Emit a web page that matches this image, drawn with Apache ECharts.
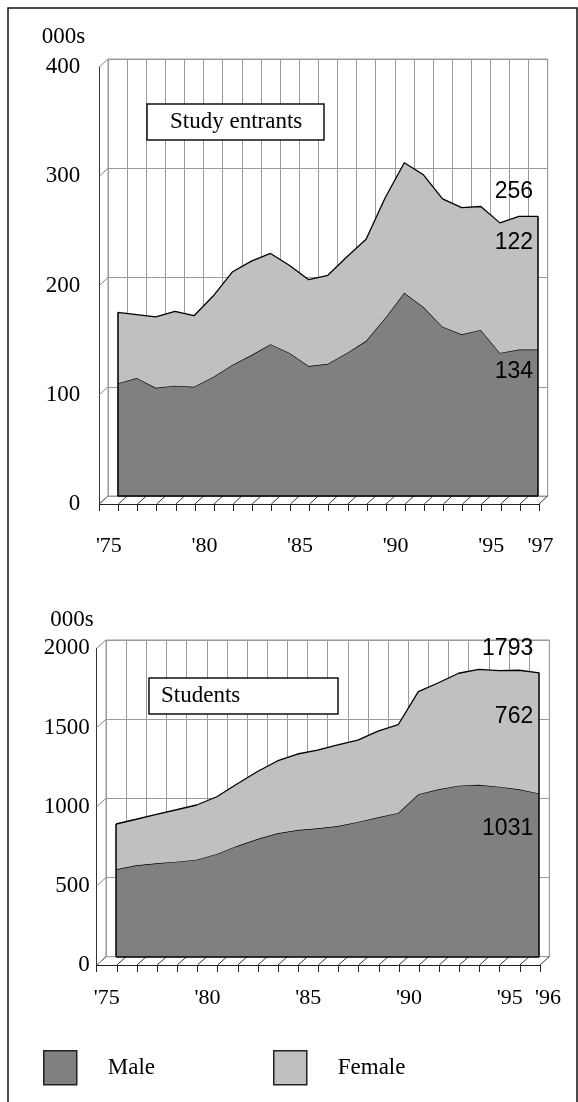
<!DOCTYPE html>
<html>
<head>
<meta charset="utf-8">
<script src="https://cdn.jsdelivr.net/npm/echarts@6/dist/echarts.min.js"></script>
<style>
  html, body { margin: 0; padding: 0; background: #fff; }
  #chart { width: 578px; height: 1102px; }
</style>
</head>
<body>
<div id="chart"></div>
<script>
// study entrants, thousands
const entrantYears = ["'75", "'76", "'77", "'78", "'79", "'80", "'81", "'82", "'83", "'84", "'85", "'86",
  "'87", "'88", "'89", "'90", "'91", "'92", "'93", "'94", "'95", "'96", "'97"];
const entrantMale = [103, 108, 99, 101, 100, 109, 120, 129, 139, 131, 119, 121, 131, 142, 163, 186, 173, 155, 148, 152, 131, 134, 134];
const entrantFemale = [65, 58, 65, 68, 65, 74, 85, 86, 83, 80, 79, 81, 88, 93, 110, 119, 121, 117, 116, 113, 119, 122, 122];
const entrantTicks = [0, 100, 200, 300, 400];

// students, thousands
const studentYears = ["'75", "'76", "'77", "'78", "'79", "'80", "'81", "'82", "'83", "'84", "'85", "'86",
  "'87", "'88", "'89", "'90", "'91", "'92", "'93", "'94", "'95", "'96"];
const studentMale = [552, 577, 590, 600, 613, 649, 699, 743, 779, 800, 811, 825, 851, 880, 908, 1026, 1057, 1080, 1086, 1074, 1057, 1031];
const studentFemale = [286, 291, 309, 328, 345, 361, 392, 425, 457, 480, 494, 512, 517, 545, 557, 648, 673, 710, 729, 732, 752, 762];
const studentTicks = [0, 500, 1000, 1500, 2000];

const SERIF = "Liberation Serif";
const SANS = "Liberation Sans";
const MALE_COLOR = "#808080";
const FEMALE_COLOR = "#c0c0c0";
const GRID_GRAY = "#9a9a9a";

// back wall box + 3d depth offset for each panel
const panels = [
  {
    title: "Study entrants", titleLeft: 147, titleTop: 104, titlePad: [5, 22, 5, 23],
    years: entrantYears, male: entrantMale, female: entrantFemale, ticks: entrantTicks,
    left: 108, top: 59, width: 439.7, height: 437, dx: 8.7, dy: 8,
    yLabelMargin: 19, nameGap: 19, namePad: [0, 14, 0, 0], xLabelMargin: 31, lastShift: 22,
    topLabelHeight: 51, topLabelOffset: 1, maleLabelOffset: 22, labelDist: 5,
  },
  {
    title: "Students", titleLeft: 149, titleTop: 678, titlePad: [5, 98, 5, 12],
    years: studentYears, male: studentMale, female: studentFemale, ticks: studentTicks,
    left: 106, top: 640, width: 443.3, height: 316.7, dx: 9.3, dy: 8.3,
    yLabelMargin: 7, nameGap: 17, namePad: [0, 3, 0, 0], xLabelMargin: 22, lastShift: 36,
    topLabelHeight: 68, topLabelOffset: 10, maleLabelOffset: 35, labelDist: 6,
  },
];

const grid = [];
const xAxis = [];
const yAxis = [];
const series = [];
const title = [];

panels.forEach((p, pi) => {
  const n = p.years.length;
  const last = n - 1;
  const backIdx = pi * 2;
  const frontIdx = pi * 2 + 1;
  const yMin = p.ticks[0];
  const yMax = p.ticks[p.ticks.length - 1];
  const yStep = p.ticks[1] - p.ticks[0];

  title.push({
    text: p.title,
    left: p.titleLeft,
    top: p.titleTop,
    padding: p.titlePad,
    borderColor: "#111",
    borderWidth: 1.5,
    backgroundColor: "#fff",
    textStyle: { fontFamily: SERIF, fontSize: 23, fontWeight: "normal", color: "#000", lineHeight: 26 },
  });

  // back wall (data lives here)
  grid.push({
    left: p.left, top: p.top, width: p.width, height: p.height,
    show: true, borderColor: GRID_GRAY, borderWidth: 1, backgroundColor: "transparent",
  });
  // front axes, shifted down-left
  grid.push({
    left: p.left - p.dx, top: p.top + p.dy, width: p.width, height: p.height,
  });

  xAxis.push({
    gridIndex: backIdx, type: "category", data: p.years, boundaryGap: true,
    axisLine: { show: false }, axisTick: { show: false }, axisLabel: { show: false },
    splitLine: { show: true, interval: 0, lineStyle: { color: GRID_GRAY, width: 1 } },
  });
  xAxis.push({
    gridIndex: frontIdx, type: "category", data: p.years, boundaryGap: true,
    axisLine: { show: true, lineStyle: { color: "#222", width: 1 } },
    axisTick: { show: true, interval: 0, length: 7, lineStyle: { color: "#222", width: 1 } },
    axisLabel: {
      interval: (i) => i % 5 === 0 || i === last,
      margin: p.xLabelMargin,
      fontFamily: SERIF, fontSize: 22, color: "#000",
      formatter: (v, i) => (i === last ? "{e|" + v + "}" : v),
      rich: { e: { fontFamily: SERIF, fontSize: 22, color: "#000", padding: [0, 0, 0, p.lastShift] } },
    },
    splitLine: { show: false },
  });

  yAxis.push({
    gridIndex: backIdx, type: "value", min: yMin, max: yMax, interval: yStep,
    axisLine: { show: false }, axisTick: { show: false }, axisLabel: { show: false },
    splitLine: { show: true, lineStyle: { color: GRID_GRAY, width: 1 } },
  });
  yAxis.push({
    gridIndex: frontIdx, type: "value", min: yMin, max: yMax, interval: yStep,
    name: "000s", nameLocation: "end", nameGap: p.nameGap,
    nameTextStyle: { fontFamily: SERIF, fontSize: 23, color: "#000", align: "right", verticalAlign: "bottom", padding: p.namePad },
    axisLine: { show: true, lineStyle: { color: "#333", width: 1 } },
    axisTick: { show: false },
    axisLabel: {
      margin: p.yLabelMargin, fontFamily: SERIF, fontSize: 23, color: "#000",
      formatter: (v) => String(v),
    },
    splitLine: { show: false },
  });

  const stackName = "s" + pi;
  series.push({
    name: "Male", type: "line", stack: stackName,
    xAxisIndex: backIdx, yAxisIndex: backIdx,
    symbol: "circle", symbolSize: 0, showSymbol: true,
    lineStyle: { color: "#000", width: 1.3 },
    itemStyle: { color: MALE_COLOR },
    areaStyle: { color: MALE_COLOR, opacity: 1 },
    data: p.male.map((v, i) => (i === last ? {
      value: v,
      label: {
        show: true, position: "left", distance: p.labelDist, offset: [0, p.maleLabelOffset],
        fontFamily: SANS, fontSize: 23, color: "#000",
      },
    } : v)),
    z: 2,
  });
  series.push({
    name: "Female", type: "line", stack: stackName,
    xAxisIndex: backIdx, yAxisIndex: backIdx,
    symbol: "circle", symbolSize: 0, showSymbol: true,
    lineStyle: { color: "#000", width: 1.3 },
    itemStyle: { color: FEMALE_COLOR },
    areaStyle: { color: FEMALE_COLOR, opacity: 1 },
    data: p.female.map((v, i) => (i === last ? {
      value: v,
      label: {
        show: true, position: "left", distance: p.labelDist, offset: [0, p.topLabelOffset],
        formatter: () => "{a|" + (p.male[i] + p.female[i]) + "}\n{a|" + p.female[i] + "}",
        rich: { a: { fontFamily: SANS, fontSize: 23, color: "#000", lineHeight: p.topLabelHeight } },
      },
    } : v)),
    // outline of the stacked area: left, right and floor edges
    markLine: {
      silent: true, symbol: "none", label: { show: false },
      lineStyle: { color: "#000", width: 1.5, type: "solid" },
      data: [
        [{ coord: [0, 0] }, { coord: [0, p.male[0] + p.female[0]] }],
        [{ coord: [last, 0] }, { coord: [last, p.male[last] + p.female[last]] }],
        [{ coord: [0, 0] }, { coord: [last, 0] }],
      ],
    },
    z: 3,
  });

  // floor diagonals, one per category boundary
  series.push({
    type: "custom", xAxisIndex: frontIdx, yAxisIndex: frontIdx, silent: true, clip: false,
    data: Array.from({ length: n + 1 }, (_d, k) => [0, yMin, k]),
    renderItem: (params, api) => {
      const cs = params.coordSys;
      const x = cs.x + (cs.width * api.value(2)) / n;
      const y = cs.y + cs.height;
      return {
        type: "line",
        shape: { x1: x, y1: y, x2: x + p.dx, y2: y - p.dy },
        style: { stroke: "#333", lineWidth: 1 },
      };
    },
    z: 1,
  });
  // side wall diagonals at each value tick
  series.push({
    type: "custom", xAxisIndex: frontIdx, yAxisIndex: frontIdx, silent: true, clip: false,
    data: p.ticks.map((t) => [0, t]),
    renderItem: (params, api) => {
      const cs = params.coordSys;
      const y = api.coord([0, api.value(1)])[1];
      return {
        type: "line",
        shape: { x1: cs.x, y1: y, x2: cs.x + p.dx, y2: y - p.dy },
        style: { stroke: "#888", lineWidth: 1 },
      };
    },
    z: 1,
  });
});

const chart = echarts.init(document.getElementById("chart"), null, { renderer: "canvas" });
chart.setOption({
  animation: false,
  backgroundColor: "#fff",
  title,
  grid,
  xAxis,
  yAxis,
  series,
  legend: {
    left: 43, top: 1050, padding: 0,
    itemWidth: 33, itemHeight: 34, itemGap: 118,
    textStyle: { fontFamily: SERIF, fontSize: 23, color: "#000", padding: [0, 0, 0, 26] },
    data: [
      { name: "Male", icon: "rect", itemStyle: { color: MALE_COLOR, borderColor: "#222", borderWidth: 1.5 } },
      { name: "Female", icon: "rect", itemStyle: { color: FEMALE_COLOR, borderColor: "#222", borderWidth: 1.5 } },
    ],
    selectedMode: false,
  },
  graphic: [
    {
      type: "rect", silent: true, z: 100,
      shape: { x: 8, y: 8, width: 569, height: 1120 },
      style: { fill: null, stroke: "#111", lineWidth: 1.5 },
    },
  ],
});

window.addEventListener("resize", () => {
  chart.resize();
});
</script>
</body>
</html>
